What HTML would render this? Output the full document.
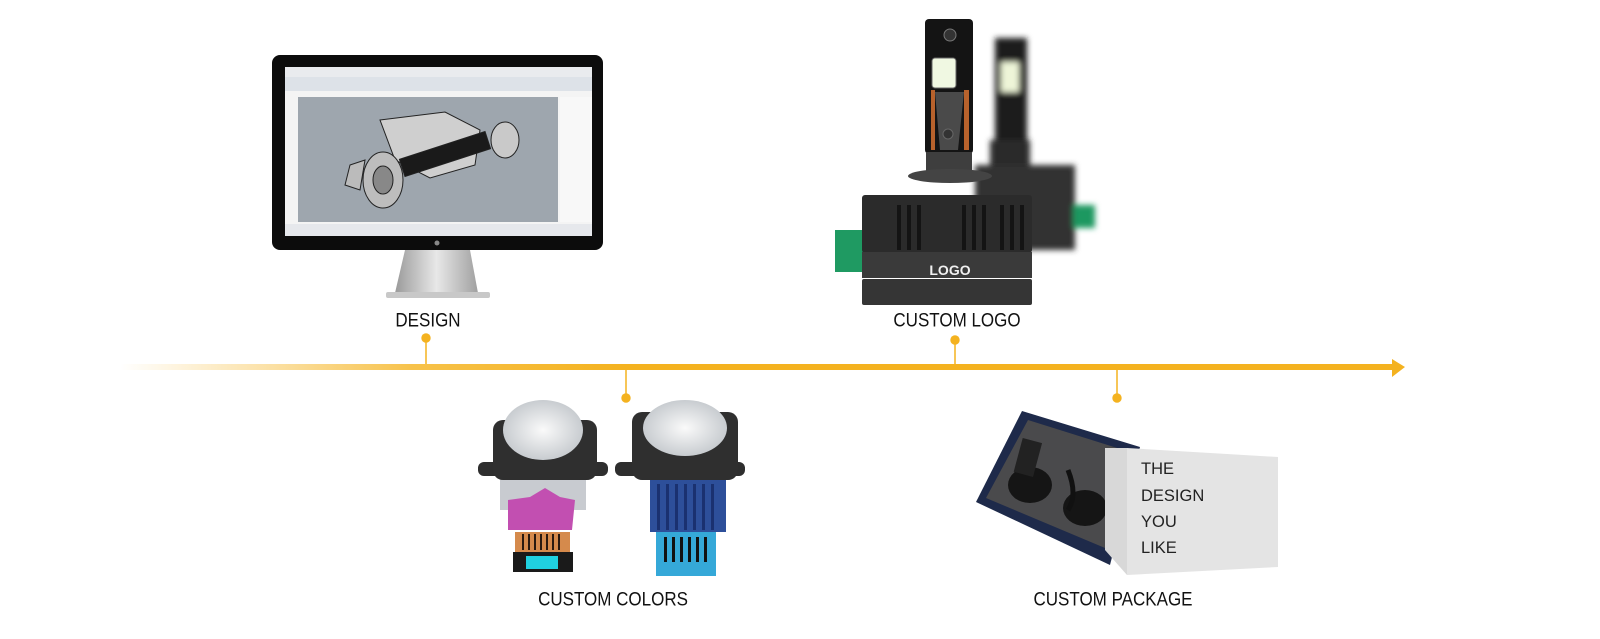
<!DOCTYPE html>
<html><head><meta charset="utf-8"><style>
html,body{margin:0;padding:0;background:#fff;}
body{width:1600px;height:639px;overflow:hidden;position:relative;font-family:"Liberation Sans",Arial,sans-serif;}
.lbl{position:absolute;font-size:17px;color:#111;white-space:nowrap;transform:translateX(-50%) scaleY(1.12);}
</style></head><body>
<svg width="1600" height="639" viewBox="0 0 1600 639" style="position:absolute;left:0;top:0">
<defs>
<linearGradient id="lineg" x1="120" x2="1392" gradientUnits="userSpaceOnUse">
<stop offset="0" stop-color="#f8c555" stop-opacity="0"/>
<stop offset="0.23" stop-color="#f7c24a"/>
<stop offset="0.4" stop-color="#f4b21f"/>
<stop offset="1" stop-color="#f4b21f"/>
</linearGradient>
<linearGradient id="stand" x1="0" x2="1"><stop offset="0" stop-color="#9a9a9a"/><stop offset="0.5" stop-color="#e8e8e8"/><stop offset="1" stop-color="#a0a0a0"/></linearGradient>
<radialGradient id="lens"><stop offset="0" stop-color="#fafafa"/><stop offset="1" stop-color="#c8ccd0"/></radialGradient>
<filter id="blur"><feGaussianBlur stdDeviation="3"/></filter>
</defs>
<rect x="120" y="364" width="1274" height="6" fill="url(#lineg)"/>
<polygon points="1392,359 1405,367 1392,377" fill="#f4b21f"/>
<g fill="#f4b21f" stroke="#f4b21f">
<line x1="426" y1="338" x2="426" y2="364" stroke-width="1.5"/><circle cx="426" cy="338" r="4.7" stroke="none"/>
<line x1="955" y1="340" x2="955" y2="364" stroke-width="1.5"/><circle cx="955" cy="340" r="4.7" stroke="none"/>
<line x1="626" y1="370" x2="626" y2="398" stroke-width="1.5"/><circle cx="626" cy="398" r="4.7" stroke="none"/>
<line x1="1117" y1="370" x2="1117" y2="398" stroke-width="1.5"/><circle cx="1117" cy="398" r="4.7" stroke="none"/>
</g>

<polygon points="405,250 470,250 478,293 395,293" fill="url(#stand)"/>
<rect x="386" y="292" width="104" height="6" rx="2" fill="#c8c8c8"/>
<rect x="272" y="55" width="331" height="195" rx="8" fill="#0c0c0c"/>
<rect x="285" y="67" width="307" height="169" fill="#f4f4f4"/>
<rect x="285" y="67" width="307" height="10" fill="#e9ebee"/>
<rect x="285" y="77" width="307" height="14" fill="#dde2e8"/>
<rect x="298" y="97" width="260" height="125" fill="#9ea6ae"/>
<rect x="560" y="97" width="32" height="125" fill="#f8f8f8"/>
<rect x="285" y="224" width="307" height="12" fill="#e6e8ec"/>
<g fill="#d8d8d8" stroke="#222" stroke-width="1">
<polygon points="380,120 445,112 480,130 475,165 430,178 395,160" fill="#cfcfcf"/>
<ellipse cx="383" cy="180" rx="20" ry="28" fill="#bdbdbd"/>
<ellipse cx="383" cy="180" rx="10" ry="14" fill="#888"/>
<rect x="400" y="145" width="90" height="18" fill="#1a1a1a" transform="rotate(-18 445 154)"/>
<ellipse cx="505" cy="140" rx="14" ry="18" fill="#c9c9c9"/>
<polygon points="350,165 365,160 360,190 345,185" fill="#bbb"/>
</g>
<circle cx="437" cy="243" r="2.5" fill="#888"/>

<g filter="url(#blur)">
<rect x="995" y="38" width="32" height="110" fill="#1a1a1a"/>
<rect x="1001" y="62" width="18" height="30" fill="#eef5d8"/>
<rect x="990" y="140" width="40" height="40" fill="#2a2a2a"/>
<rect x="975" y="165" width="100" height="85" fill="#303030"/>
<rect x="1073" y="205" width="22" height="23" fill="#1e9860"/>
</g>
<rect x="925" y="19" width="48" height="135" rx="4" fill="#141414"/>
<rect x="932" y="58" width="24" height="30" rx="3" fill="#f0f8e2" stroke="#666"/>
<rect x="931" y="90" width="4" height="60" fill="#b8622c"/>
<rect x="964" y="90" width="5" height="60" fill="#b8622c"/>
<polygon points="935,92 964,92 958,150 940,150" fill="#4a4a4a"/>
<circle cx="950" cy="35" r="6" fill="#333" stroke="#777"/>
<circle cx="948" cy="134" r="5" fill="#333" stroke="#666"/>
<rect x="926" y="152" width="46" height="25" fill="#3e3e3e"/>
<ellipse cx="950" cy="176" rx="42" ry="7" fill="#444"/>
<rect x="835" y="230" width="30" height="42" fill="#1f9a62"/>
<rect x="862" y="195" width="170" height="58" rx="3" fill="#2b2b2b"/>
<g fill="#141414">
<rect x="897" y="205" width="4" height="45"/><rect x="907" y="205" width="4" height="45"/><rect x="917" y="205" width="4" height="45"/>
<rect x="962" y="205" width="4" height="45"/><rect x="972" y="205" width="4" height="45"/><rect x="982" y="205" width="4" height="45"/>
<rect x="1000" y="205" width="4" height="45"/><rect x="1010" y="205" width="4" height="45"/><rect x="1020" y="205" width="4" height="45"/>
</g>
<rect x="862" y="252" width="170" height="26" fill="#3a3a3a"/>
<rect x="862" y="279" width="170" height="26" rx="2" fill="#353535"/>
<text x="950" y="275" font-family="Liberation Sans, Arial, sans-serif" font-weight="bold" font-size="14" fill="#f0f0f0" text-anchor="middle">LOGO</text>

<g>
<rect x="478" y="462" width="130" height="14" rx="6" fill="#2e2e2e"/>
<rect x="500" y="478" width="86" height="32" fill="#c8cbd0"/>
<rect x="493" y="420" width="104" height="60" rx="10" fill="#2f2f2f"/>
<ellipse cx="543" cy="430" rx="40" ry="30" fill="url(#lens)"/>
<polygon points="530,497 545,488 560,497 575,500 572,530 508,530 508,500" fill="#c24fb1"/>
<rect x="515" y="532" width="55" height="20" fill="#d58a4c"/>
<g fill="#2a1a10"><rect x="522" y="534" width="2" height="16"/><rect x="528" y="534" width="2" height="16"/><rect x="534" y="534" width="2" height="16"/><rect x="540" y="534" width="2" height="16"/><rect x="546" y="534" width="2" height="16"/><rect x="552" y="534" width="2" height="16"/><rect x="558" y="534" width="2" height="16"/></g>
<rect x="513" y="552" width="60" height="20" fill="#1a1a1a"/>
<rect x="526" y="556" width="32" height="13" fill="#20d0e0"/>
</g>
<g>
<rect x="615" y="462" width="130" height="14" rx="6" fill="#2e2e2e"/>
<rect x="632" y="412" width="106" height="68" rx="10" fill="#2f2f2f"/>
<ellipse cx="685" cy="428" rx="42" ry="28" fill="url(#lens)"/>
<rect x="650" y="480" width="76" height="52" fill="#2d4f9a"/>
<g fill="#1a3170"><rect x="657" y="484" width="3" height="46"/><rect x="666" y="484" width="3" height="46"/><rect x="675" y="484" width="3" height="46"/><rect x="684" y="484" width="3" height="46"/><rect x="693" y="484" width="3" height="46"/><rect x="702" y="484" width="3" height="46"/><rect x="711" y="484" width="3" height="46"/></g>
<rect x="656" y="532" width="60" height="44" fill="#35a8d8"/>
<g fill="#111"><rect x="664" y="537" width="3" height="25"/><rect x="672" y="537" width="3" height="25"/><rect x="680" y="537" width="3" height="25"/><rect x="688" y="537" width="3" height="25"/><rect x="696" y="537" width="3" height="25"/><rect x="704" y="537" width="3" height="25"/></g>
</g>

<polygon points="976,502 1022,411 1140,447 1110,565" fill="#1e2a4a"/>
<polygon points="986,498 1028,420 1130,452 1105,548" fill="#4a4a4c"/>
<ellipse cx="1030" cy="485" rx="22" ry="18" fill="#151515"/>
<rect x="1018" y="440" width="20" height="35" fill="#222" transform="rotate(15 1028 457)"/>
<ellipse cx="1085" cy="508" rx="22" ry="18" fill="#151515"/>
<path d="M1068,470 q10,25 0,40" stroke="#111" stroke-width="5" fill="none"/>
<polygon points="1105,448 1127,448 1127,575 1105,550" fill="#d8d8d8"/>
<polygon points="1127,448 1278,457 1278,567 1127,575" fill="#e4e4e4"/>
<g font-family="Liberation Sans, Arial, sans-serif" font-size="16.5" fill="#222">
<text x="1141" y="474">THE</text>
<text x="1141" y="501">DESIGN</text>
<text x="1141" y="527">YOU</text>
<text x="1141" y="553">LIKE</text>
</g>
</svg>
<div class="lbl" style="left:428px;top:311px">DESIGN</div>
<div class="lbl" style="left:957px;top:311px">CUSTOM LOGO</div>
<div class="lbl" style="left:613px;top:590px">CUSTOM COLORS</div>
<div class="lbl" style="left:1113px;top:590px">CUSTOM PACKAGE</div>
</body></html>
